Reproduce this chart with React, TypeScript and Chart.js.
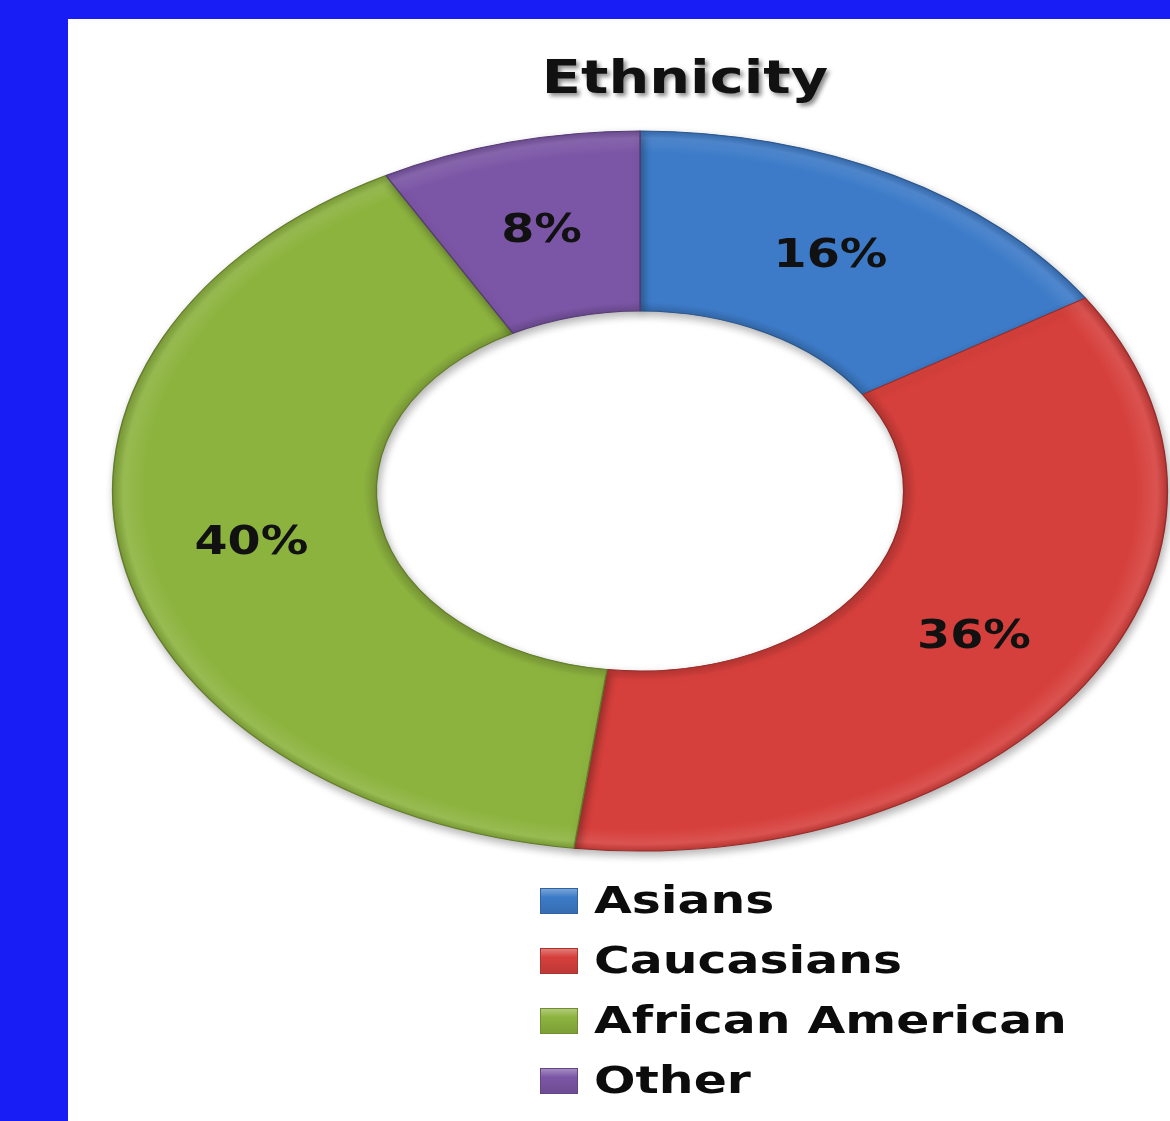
import React, { useEffect, useRef } from "react";
import { Chart, registerables } from "chart.js";

Chart.register(...registerables);

const chartTitle = "Ethnicity";
const categories = ["Asians", "Caucasians", "African American", "Other"];
const shares = [16, 36, 40, 8];
const percentLabels = ["16%", "36%", "40%", "8%"];
const colors = ["#3d7bc8", "#d6403c", "#8db33f", "#7c56a6"];

const STRETCH = 1.465;
const TEXT_STRETCH = 1.22;
const LEGEND_STRETCH = 1.32;
const FONT = '"DejaVu Sans", "Noto Sans", sans-serif';

function shade(hex: string, amt: number): string {
  const n = parseInt(hex.slice(1), 16);
  let r = (n >> 16) & 255, g = (n >> 8) & 255, b = n & 255;
  const f = (c: number) => {
    const v = amt >= 0 ? c + (255 - c) * amt : c * (1 + amt);
    return Math.max(0, Math.min(255, Math.round(v)));
  };
  r = f(r); g = f(g); b = f(b);
  return `rgb(${r},${g},${b})`;
}

function drawStretched(
  ctx: CanvasRenderingContext2D,
  text: string,
  x: number,
  y: number,
  font: string,
  align: CanvasTextAlign,
  baseline: CanvasTextBaseline,
  stretch: number
) {
  ctx.save();
  ctx.translate(x, y);
  ctx.scale(stretch, 1);
  ctx.font = font;
  ctx.textAlign = align;
  ctx.textBaseline = baseline;
  ctx.fillText(text, 0, 0);
  ctx.restore();
}

const stretchPlugin = {
  id: "stretchRing",
  beforeDatasetsDraw(chart: any) {
    const ctx = chart.ctx as CanvasRenderingContext2D;
    const area = chart.chartArea;
    const cx = (area.left + area.right) / 2;
    ctx.save();
    ctx.translate(cx, 0);
    ctx.scale(STRETCH, 1);
    ctx.translate(-cx, 0);
    ctx.shadowColor = "rgba(0,0,0,0.30)";
    ctx.shadowBlur = 9;
    ctx.shadowOffsetX = 2;
    ctx.shadowOffsetY = 4;
  },
  afterDatasetsDraw(chart: any) {
    chart.ctx.restore();
  },
};

const textPlugin = {
  id: "ringText",
  afterDraw(chart: any) {
    const ctx = chart.ctx as CanvasRenderingContext2D;
    const area = chart.chartArea;
    const cx = (area.left + area.right) / 2;
    const meta = chart.getDatasetMeta(0);

    // percentage labels
    ctx.save();
    ctx.fillStyle = "#111";
    meta.data.forEach((el: any, i: number) => {
      const p = el.getCenterPoint();
      const x = cx + (p.x - cx) * STRETCH;
      drawStretched(ctx, percentLabels[i], x, p.y + 2, `bold 39px ${FONT}`, "center", "middle", TEXT_STRETCH);
    });
    ctx.restore();

    // title
    ctx.save();
    ctx.fillStyle = "#111";
    ctx.shadowColor = "rgba(0,0,0,0.45)";
    ctx.shadowBlur = 4;
    ctx.shadowOffsetX = 3;
    ctx.shadowOffsetY = 3;
    drawStretched(ctx, chartTitle, 617, 74, `bold 47px ${FONT}`, "center", "alphabetic", TEXT_STRETCH);
    ctx.restore();

    // legend
    categories.forEach((name, i) => {
      const top = 869 + 60 * i;
      ctx.save();
      const g = ctx.createLinearGradient(0, top, 0, top + 26);
      g.addColorStop(0, shade(colors[i], 0.35));
      g.addColorStop(0.35, colors[i]);
      g.addColorStop(1, shade(colors[i], -0.12));
      ctx.fillStyle = g;
      ctx.fillRect(472, top, 38, 26);
      ctx.strokeStyle = shade(colors[i], -0.2);
      ctx.lineWidth = 1;
      ctx.strokeRect(472.5, top + 0.5, 37, 25);
      ctx.fillStyle = "#0c0c0c";
      drawStretched(ctx, name, 526, top + 25, `bold 37px ${FONT}`, "left", "alphabetic", LEGEND_STRETCH);
      ctx.restore();
    });
  },
};

export default function App() {
  const ref = useRef<HTMLCanvasElement>(null);

  useEffect(() => {
    const canvas = ref.current;
    if (!canvas) return;
    const chart = new Chart(canvas, {
      type: "doughnut",
      data: {
        labels: categories,
        datasets: [
          {
            data: shares,
            backgroundColor: (c: any) => {
              const base = colors[c.dataIndex % colors.length];
              const area = c.chart.chartArea;
              if (!area) return base;
              const cx = (area.left + area.right) / 2;
              const cy = (area.top + area.bottom) / 2;
              const g = c.chart.ctx.createRadialGradient(cx, cy, 180, cx, cy, 360);
              g.addColorStop(0, shade(base, -0.15));
              g.addColorStop(0.05, base);
              g.addColorStop(0.88, base);
              g.addColorStop(0.96, shade(base, 0.1));
              g.addColorStop(1, shade(base, -0.12));
              return g;
            },
            borderColor: colors.map((c) => shade(c, -0.3)),
            borderWidth: 1,
            clip: false,
          } as any,
        ],
      },
      options: {
        responsive: false,
        animation: false,
        events: [],
        cutout: "50%",
        radius: 360,
        layout: { padding: { left: 207, right: 165, top: 107, bottom: 265 } },
        plugins: {
          legend: { display: false },
          tooltip: { enabled: false },
          title: { display: false },
        },
      } as any,
      plugins: [stretchPlugin, textPlugin],
    });
    return () => chart.destroy();
  }, []);

  return (
    <div style={{ position: "fixed", inset: 0, background: "#171df4", overflow: "hidden" }}>
      <div
        style={{
          position: "absolute",
          left: 68,
          top: 19,
          width: 1102,
          height: 1102,
          background: "#ffffff",
        }}
      >
        <canvas ref={ref} width={1102} height={1102} style={{ display: "block", width: 1102, height: 1102 }} />
      </div>
    </div>
  );
}
